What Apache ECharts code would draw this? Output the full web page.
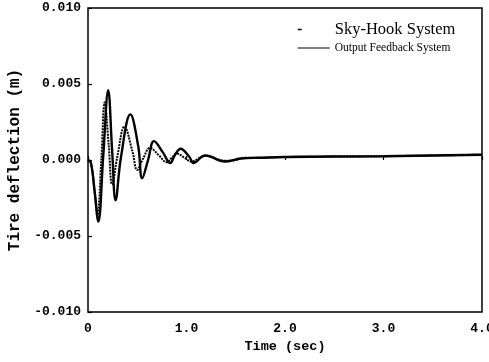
<!DOCTYPE html>
<html>
<head>
<meta charset="utf-8">
<script src="https://cdn.jsdelivr.net/npm/echarts@6/dist/echarts.min.js"></script>
<style>
  html, body { margin: 0; padding: 0; background: #fff; }
  #chart { width: 489px; height: 362px; }
</style>
</head>
<body>
<div id="chart"></div>
<script>
// Time (s) and tire deflection (m)
const skyHookTime = [0, 0.03, 0.065, 0.095, 0.135, 0.17, 0.21, 0.245, 0.3, 0.37, 0.45, 0.5, 0.56, 0.63, 0.72, 0.8, 0.85, 0.9, 0.98, 1.05, 1.19, 1.39, 1.5, 1.6, 1.75, 2.0, 3.0, 4.0];
const skyHookDefl = [0, -0.0002, -0.002, -0.0037, 0, 0.0038, 0.001, -0.0016, 0.0003, 0.0022, 0.0006, -0.00065, 0.0001, 0.0008, 0.0003, -0.00015, 0.00015, 0.00043, 0.00015, -0.0001, 0.00028, -0.00005, 0, 0.00015, 0.00015, 0.0002, 0.00025, 0.00035];

const feedbackTime = [0, 0.03, 0.07, 0.105, 0.155, 0.205, 0.245, 0.28, 0.335, 0.43, 0.51, 0.55, 0.61, 0.67, 0.76, 0.835, 0.88, 0.94, 1.03, 1.07, 1.19, 1.39, 1.55, 1.75, 2.0, 3.0, 4.0];
const feedbackDefl = [0, -0.0002, -0.0022, -0.00405, 0.0003, 0.0046, 0.0006, -0.00265, 0.0002, 0.003, 0.0009, -0.0012, 0, 0.00124, 0.0005, -0.0002, 0.0003, 0.00074, 0.0002, -0.0002, 0.0003, -0.0001, 0.0001, 0.00015, 0.0002, 0.00025, 0.00035];

const seriesNames = ['Sky-Hook System', 'Output Feedback System'];

const zip = (xs, ys) => xs.map((x, i) => [x, ys[i]]);

const chart = echarts.init(document.getElementById('chart'));

const option = {
  backgroundColor: '#fff',
  animation: false,
  grid: {
    left: 88,
    right: 7,
    top: 8,
    bottom: 50,
    outerBoundsMode: 'none',
    containLabel: false,
    show: true,
    borderColor: '#000',
    borderWidth: 1.5,
  },
  legend: {
    orient: 'vertical',
    left: 292,
    top: 16,
    itemWidth: 32,
    itemHeight: 14,
    itemGap: 4,
    itemStyle: { opacity: 0, borderWidth: 0 },
    data: [
      { name: seriesNames[0], lineStyle: { type: [4, 40], width: 1.5, color: '#000' } },
      { name: seriesNames[1], lineStyle: { type: 'solid', width: 1.2, color: '#000' } },
    ],
    formatter: (name) => (name === seriesNames[0] ? '{a|' + name + '}' : '{b|' + name + '}'),
    textStyle: {
      color: '#000',
      rich: {
        a: { fontFamily: 'Liberation Serif', fontSize: 16.5, color: '#000' },
        b: { fontFamily: 'Liberation Serif', fontSize: 11.5, color: '#000' },
      },
    },
  },
  xAxis: {
    type: 'value',
    min: 0,
    max: 4,
    interval: 1,
    name: 'Time (sec)',
    nameLocation: 'middle',
    nameGap: 28,
    nameTextStyle: { fontFamily: 'Liberation Mono', fontWeight: 'bold', fontSize: 13.5, color: '#000' },
    axisLine: { show: false },
    axisTick: { show: true, inside: true, length: 4, lineStyle: { color: '#000', width: 1.2 } },
    splitLine: { show: false },
    axisLabel: {
      margin: 10,
      fontFamily: 'Liberation Mono',
      fontWeight: 'bold',
      fontSize: 13,
      color: '#000',
      formatter: (v) => (v === 0 ? '0' : v.toFixed(1)),
    },
  },
  yAxis: {
    type: 'value',
    min: -0.01,
    max: 0.01,
    interval: 0.005,
    name: 'Tire deflection (m)',
    nameLocation: 'middle',
    nameGap: 64,
    nameTextStyle: { fontFamily: 'Liberation Mono', fontWeight: 'bold', fontSize: 16, color: '#000' },
    axisLine: { show: false },
    axisTick: { show: true, inside: true, length: 4, lineStyle: { color: '#000', width: 1.2 } },
    splitLine: { show: false },
    axisLabel: {
      margin: 7,
      fontFamily: 'Liberation Mono',
      fontWeight: 'bold',
      fontSize: 13,
      color: '#000',
      formatter: (v) => v.toFixed(3),
    },
  },
  series: [
    {
      name: seriesNames[0],
      type: 'line',
      data: zip(skyHookTime, skyHookDefl),
      symbol: 'none',
      smooth: 0.4,
      lineStyle: { color: '#000', width: 2, type: [2, 1] },
      itemStyle: { color: '#000' },
    },
    {
      name: seriesNames[1],
      type: 'line',
      data: zip(feedbackTime, feedbackDefl),
      symbol: 'none',
      smooth: 0.4,
      lineStyle: { color: '#000', width: 2.4 },
      itemStyle: { color: '#000' },
    },
  ],
};

chart.setOption(option);
</script>
</body>
</html>
